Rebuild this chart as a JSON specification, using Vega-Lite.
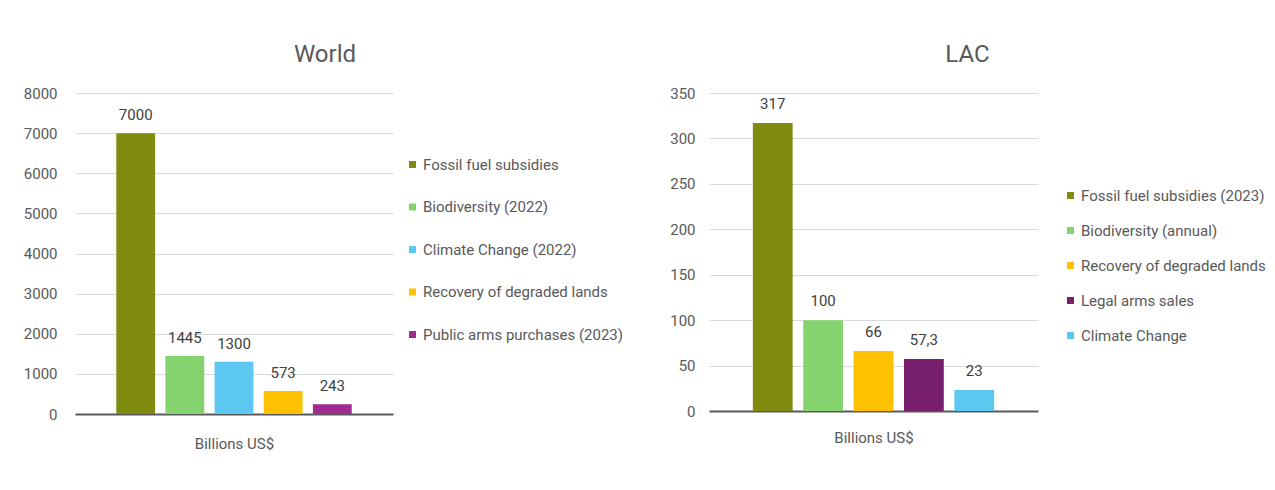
{
  "$schema": "https://vega.github.io/schema/vega-lite/v6.json",
  "background": "white",
  "padding": {"left": 23, "top": 43, "right": 0, "bottom": 0},
  "config": {
    "font": "Roboto",
    "view": {"stroke": null},
    "axis": {"labelFont": "Roboto", "titleFont": "Roboto", "labelColor": "#595959", "titleColor": "#595959", "labelFontSize": 15, "titleFontSize": 15, "titleFontWeight": "normal"},
    "legend": {"labelFont": "Roboto", "labelFontSize": 15, "labelColor": "#595959", "symbolType": "square", "symbolSize": 49, "symbolStrokeWidth": 0, "labelOffset": 3, "padding": 0, "labelLimit": 400},
    "title": {"font": "Roboto", "fontSize": 24, "fontWeight": "normal", "color": "#595959"}
  },
  "datasets": {
    "world": [
      {"category": "Fossil fuel subsidies", "value": 7000, "label": "7000"},
      {"category": "Biodiversity (2022)", "value": 1445, "label": "1445"},
      {"category": "Climate Change (2022)", "value": 1300, "label": "1300"},
      {"category": "Recovery of degraded lands", "value": 573, "label": "573"},
      {"category": "Public arms purchases (2023)", "value": 243, "label": "243"}
    ],
    "lac": [
      {"category": "Fossil fuel subsidies (2023)", "value": 317, "label": "317"},
      {"category": "Biodiversity (annual)", "value": 100, "label": "100"},
      {"category": "Recovery of degraded lands", "value": 66, "label": "66"},
      {"category": "Legal arms sales", "value": 57.3, "label": "57,3"},
      {"category": "Climate Change", "value": 23, "label": "23"}
    ]
  },
  "hconcat": [
    {
      "data": {"name": "world"},
      "width": 318,
      "height": 321,
      "title": {"text": "World", "frame": "group", "anchor": "middle", "dx": 91, "offset": 19},
      "encoding": {
        "x": {
          "field": "category", "type": "nominal",
          "sort": ["Fossil fuel subsidies", "Biodiversity (2022)", "Climate Change (2022)", "Recovery of degraded lands", "Public arms purchases (2023)"],
          "scale": {"paddingInner": 0.21, "paddingOuter": 0.84},
          "axis": {"labels": false, "ticks": false, "title": "Billions US$", "titlePadding": 22, "domainColor": "#595959", "domainWidth": 2}
        },
        "y": {
          "field": "value", "type": "quantitative",
          "scale": {"domain": [0, 8000], "nice": false},
          "axis": {"values": [0, 1000, 2000, 3000, 4000, 5000, 6000, 7000, 8000], "format": "d", "title": null, "domain": false, "ticks": false, "labelPadding": 18, "gridColor": "#d9d9d9", "gridWidth": 1}
        }
      },
      "layer": [
        {
          "mark": {"type": "bar"},
          "encoding": {
            "color": {
              "field": "category", "type": "nominal",
              "scale": {
                "domain": ["Fossil fuel subsidies", "Biodiversity (2022)", "Climate Change (2022)", "Recovery of degraded lands", "Public arms purchases (2023)"],
                "range": ["#7f8c10", "#84d36f", "#5cc8f2", "#ffc000", "#a02b93"]
              },
              "legend": {"title": null, "orient": "none", "legendX": 330, "legendY": 64, "rowPadding": 26.5}
            }
          }
        },
        {
          "mark": {"type": "text", "dy": -18, "baseline": "middle", "fontSize": 15, "color": "#404040", "font": "Roboto"},
          "encoding": {"text": {"field": "label"}}
        }
      ]
    },
    {
      "data": {"name": "lac"},
      "width": 329,
      "height": 318,
      "title": {"text": "LAC", "frame": "group", "anchor": "middle", "dx": 94, "offset": 19},
      "encoding": {
        "x": {
          "field": "category", "type": "nominal",
          "sort": ["Fossil fuel subsidies (2023)", "Biodiversity (annual)", "Recovery of degraded lands", "Legal arms sales", "Climate Change"],
          "scale": {"paddingInner": 0.21, "paddingOuter": 0.87},
          "axis": {"labels": false, "ticks": false, "title": "Billions US$", "titlePadding": 19, "domainColor": "#595959", "domainWidth": 2}
        },
        "y": {
          "field": "value", "type": "quantitative",
          "scale": {"domain": [0, 350], "nice": false},
          "axis": {"values": [0, 50, 100, 150, 200, 250, 300, 350], "format": "d", "title": null, "domain": false, "ticks": false, "labelPadding": 14, "gridColor": "#d9d9d9", "gridWidth": 1}
        }
      },
      "layer": [
        {
          "mark": {"type": "bar"},
          "encoding": {
            "color": {
              "field": "category", "type": "nominal",
              "scale": {
                "domain": ["Fossil fuel subsidies (2023)", "Biodiversity (annual)", "Recovery of degraded lands", "Legal arms sales", "Climate Change"],
                "range": ["#7f8c10", "#84d36f", "#ffc000", "#78206e", "#5cc8f2"]
              },
              "legend": {"title": null, "orient": "none", "legendX": 354, "legendY": 95, "rowPadding": 19}
            }
          }
        },
        {
          "mark": {"type": "text", "dy": -19, "baseline": "middle", "fontSize": 15, "color": "#404040", "font": "Roboto"},
          "encoding": {"text": {"field": "label"}}
        }
      ]
    }
  ],
  "spacing": 45,
  "resolve": {"scale": {"color": "independent", "x": "independent", "y": "independent"}, "legend": {"color": "independent"}}
}
